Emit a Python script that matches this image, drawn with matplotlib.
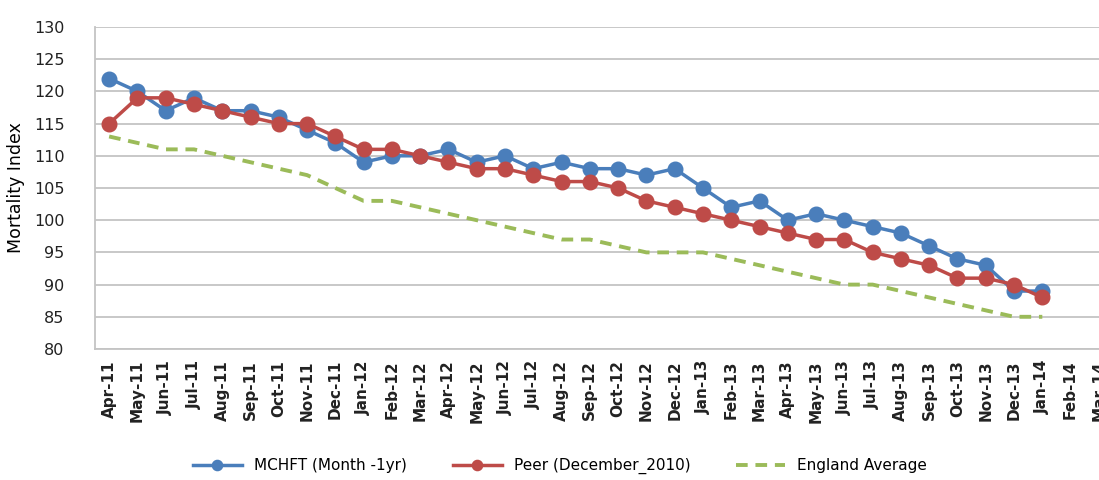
import matplotlib
matplotlib.use("Agg")
from matplotlib import pyplot as plt
import numpy as np

months = ['Apr-11', 'May-11', 'Jun-11', 'Jul-11', 'Aug-11', 'Sep-11', 'Oct-11', 'Nov-11', 'Dec-11',
          'Jan-12', 'Feb-12', 'Mar-12', 'Apr-12', 'May-12', 'Jun-12', 'Jul-12', 'Aug-12', 'Sep-12',
          'Oct-12', 'Nov-12', 'Dec-12', 'Jan-13', 'Feb-13', 'Mar-13', 'Apr-13', 'May-13', 'Jun-13',
          'Jul-13', 'Aug-13', 'Sep-13', 'Oct-13', 'Nov-13', 'Dec-13', 'Jan-14', 'Feb-14', 'Mar-14']

mchft = [122, 120, 117, 119, 117, 117, 116, 114, 112, 109, 110, 110, 111, 109, 110, 108, 109, 108,
         108, 107, 108, 105, 102, 103, 100, 101, 100, 99, 98, 96, 94, 93, 89, 89]
peer = [115, 119, 119, 118, 117, 116, 115, 115, 113, 111, 111, 110, 109, 108, 108, 107, 106, 106,
        105, 103, 102, 101, 100, 99, 98, 97, 97, 95, 94, 93, 91, 91, 90, 88]
england = [113, 112, 111, 111, 110, 109, 108, 107, 105, 103, 103, 102, 101, 100, 99, 98, 97, 97,
           96, 95, 95, 95, 94, 93, 92, 91, 90, 90, 89, 88, 87, 86, 85, 85]

plt.rcParams['font.family'] = ['DejaVu Sans']

fig = plt.figure(figsize=(10.99, 4.8), dpi=100)
# axes run a bit past the right edge, like the cropped original
ax = fig.add_axes([95 / 1099, 131 / 480, 1018 / 1099, 322 / 480])

x = np.arange(len(months))
ax.plot(x[:len(england)], england, color='#9bbb59', lw=2.8, ls=(0, (3, 2)), label='England Average', zorder=2)
ax.plot(x[:len(mchft)], mchft, color='#4a7ebb', lw=2.5, marker='o', ms=10.5, label='MCHFT (Month -1yr)', zorder=3)
ax.plot(x[:len(peer)], peer, color='#be4b48', lw=2.5, marker='o', ms=10.5, label='Peer (December_2010)', zorder=4)

ax.set_xlim(-0.5, len(months) - 0.5)
ax.set_ylim(80, 130)
ax.set_yticks(range(80, 131, 5))
ax.set_xticks(x)
ax.set_xticklabels(months, rotation=90, fontsize=11, fontweight='bold', color='#222222')
ax.tick_params(axis='y', labelsize=11.5, length=0, pad=22, colors='#222222')
ax.tick_params(axis='x', length=0, pad=8)
ax.grid(axis='y', color='#c4c4c4', lw=1.3)
ax.set_axisbelow(True)
for s in ['top', 'right']:
    ax.spines[s].set_visible(False)
for s in ['left', 'bottom']:
    ax.spines[s].set_color('#c4c4c4')
    ax.spines[s].set_linewidth(1.3)
ax.set_ylabel('Mortality Index', fontsize=12.5, labelpad=6)

h, l = ax.get_legend_handles_labels()
order = [1, 2, 0]
fig.legend([h[i] for i in order], [l[i] for i in order], loc='center', bbox_to_anchor=(560 / 1099, 14 / 480),
           ncol=3, frameon=False, fontsize=11, handlelength=3.2, markerscale=0.7, columnspacing=3)

fig.savefig('out.png', dpi=100)
